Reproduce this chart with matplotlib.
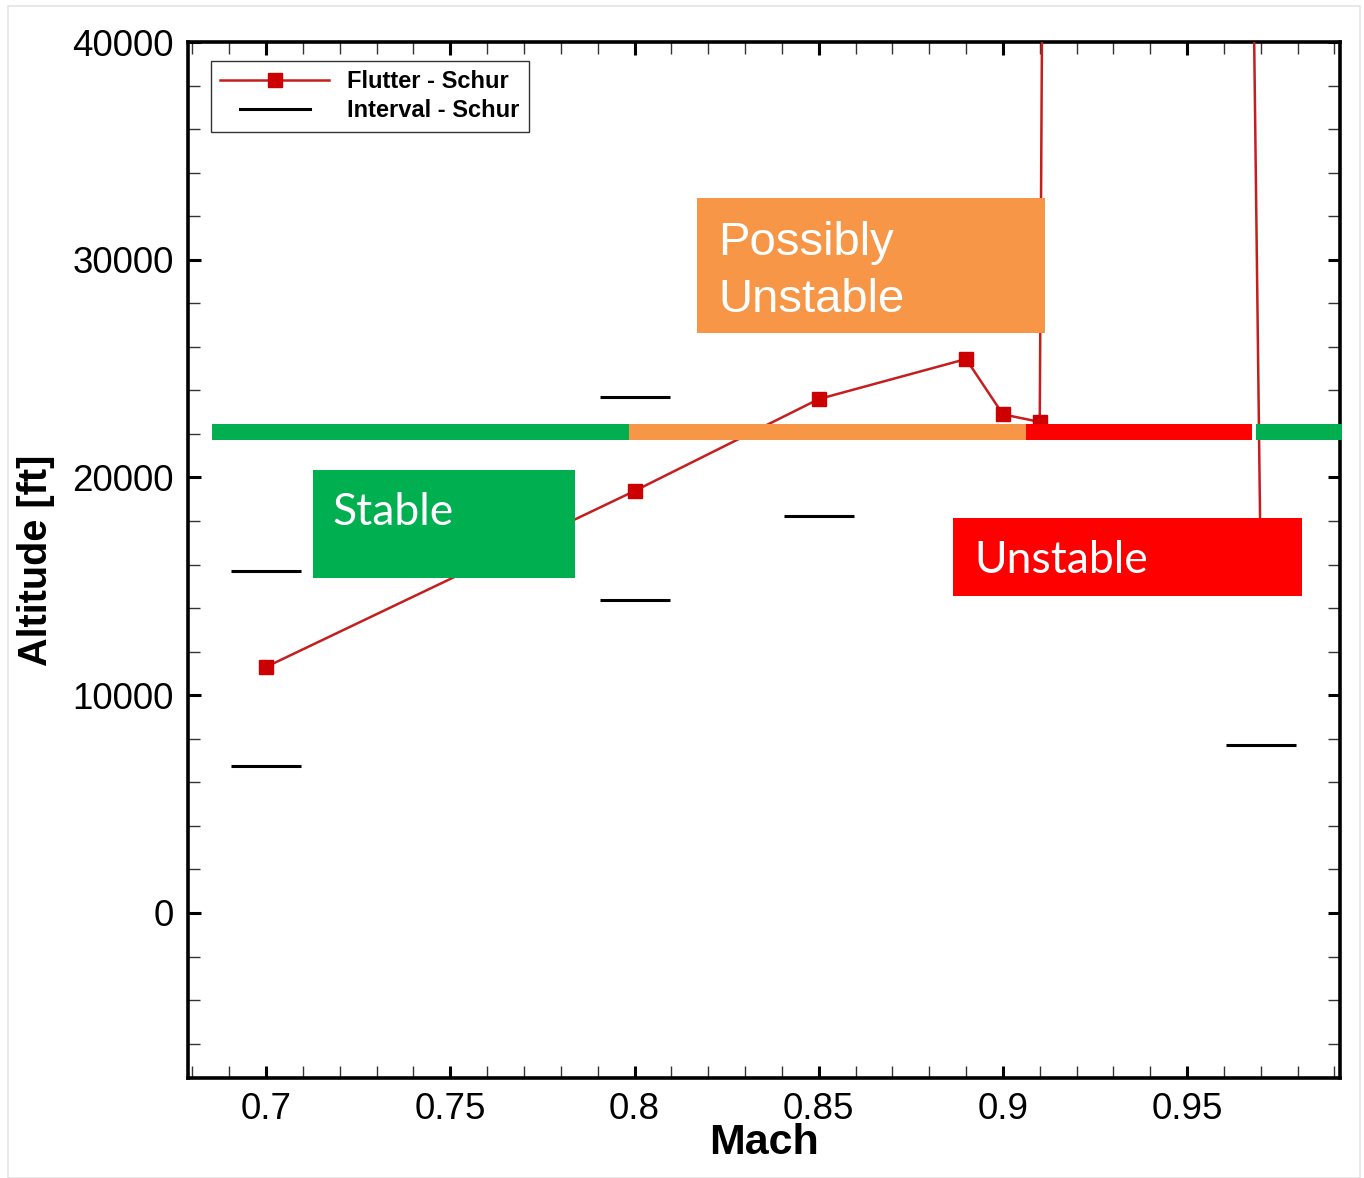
import matplotlib
matplotlib.use("Agg")
import matplotlib.pyplot as plt
from matplotlib.patches import Rectangle
from matplotlib.legend_handler import HandlerLine2D
from matplotlib.ticker import MultipleLocator

# Flutter boundary from the Schur analysis (the last three points leave the plot window)
flutter_mach = [0.70, 0.80, 0.85, 0.89, 0.90, 0.91, 0.911, 0.965, 0.97]
flutter_alt = [11300, 19380, 23600, 25440, 22900, 22550, 52000, 84000, 15400]
flutter_marked = 6  # number of computed points drawn with markers

# Interval bounds from the Schur analysis
interval_mach = [0.70, 0.70, 0.80, 0.80, 0.85, 0.97]
interval_alt = [15700, 6750, 23700, 14370, 18230, 7720]
interval_halfwidth = 0.0095

# Stability classification bands along the Mach axis
band_alt = 22090
band_edges = [(0.6853, 0.7985), (0.7985, 0.9063), (0.9063, 0.9677), (0.9687, 0.992)]
band_colors = ["#00B050", "#F79646", "#FF0000", "#00B050"]

x_ticks = [0.7, 0.75, 0.8, 0.85, 0.9, 0.95]
y_ticks = [0, 10000, 20000, 30000, 40000]

W, H = 1364, 1178
fig = plt.figure(figsize=(W / 100, H / 100), dpi=100, facecolor="white")
ax = fig.add_axes([188 / W, 1 - 1078 / H, (1340 - 188) / W, (1078 - 42) / H])

tick_font = "Liberation Sans"

# flutter curve
ax.plot(flutter_mach, flutter_alt, color="#C41E1E", lw=1.8, marker="s", ms=10,
        mfc="#CC0000", mec="#CC0000", markevery=list(range(flutter_marked)),
        label="Flutter - Schur", zorder=3)

# interval segments
ax.hlines(interval_alt, [m - interval_halfwidth for m in interval_mach],
          [m + interval_halfwidth for m in interval_mach], colors="black", lw=2.2,
          zorder=3)
ax.plot([], [], color="black", lw=2.2, label="Interval - Schur")

# classification bands
band_h = 735
for (x0, x1), c in zip(band_edges, band_colors):
    ax.add_patch(Rectangle((x0, band_alt - band_h / 2), x1 - x0, band_h, facecolor=c,
                           edgecolor="none", clip_on=False, zorder=5))

ax.set_xlim(0.6788, 0.9915)
ax.set_ylim(-7580, 40000)
ax.set_xticks(x_ticks)
ax.set_yticks(y_ticks)
ax.set_xticklabels([f"{t:g}" for t in x_ticks], fontfamily=tick_font, fontsize=26.5)
ax.set_yticklabels([str(t) for t in y_ticks], fontfamily=tick_font, fontsize=26.5)
ax.xaxis.set_minor_locator(MultipleLocator(0.01))
ax.yaxis.set_minor_locator(MultipleLocator(2000))
ax.tick_params(which="both", direction="in", top=True, right=True)
ax.tick_params(which="major", length=9, width=2.2, pad=10)
ax.tick_params(which="minor", length=8.5, width=1.0, color="#333333")
for s in ax.spines.values():
    s.set_linewidth(2.6)

ax.set_xlabel("Mach", fontfamily=tick_font, fontweight="bold", fontsize=31, labelpad=-3)
ax.set_ylabel("Altitude [ft]", fontfamily=tick_font, fontweight="bold", fontsize=28.5,
              labelpad=13)


class ShortLine(HandlerLine2D):
    def create_artists(self, legend, orig_handle, xdescent, ydescent, width, height,
                       fontsize, trans):
        return super().create_artists(legend, orig_handle, xdescent - width * 0.18,
                                      ydescent, width * 0.64, height, fontsize, trans)


handles, labels = ax.get_legend_handles_labels()
leg = ax.legend(handles, labels, loc="upper left", bbox_to_anchor=(0.02, 0.9817),
                borderaxespad=0, frameon=True, fancybox=False, edgecolor="black",
                handlelength=4.6, handletextpad=0.75, labelspacing=0.25,
                borderpad=0.4, prop={"family": tick_font, "weight": "bold", "size": 17},
                handler_map={handles[1]: ShortLine()})
leg.get_frame().set_linewidth(1.0)
leg.set_zorder(6)

# labelled regions
boxes = [
    ((0.4418, 0.7191), 0.7439 - 0.4418, 0.8494 - 0.7191, "#F79646"),
    ((0.1085, 0.4826), 0.3359 - 0.1085, 0.5869 - 0.4826, "#00B050"),
    ((0.6641, 0.4653), 0.9670 - 0.6641, 0.5405 - 0.4653, "#FF0000"),
]
for xy, w, h, c in boxes:
    ax.add_patch(Rectangle(xy, w, h, transform=ax.transAxes, facecolor=c,
                           edgecolor="none", zorder=7))

ax.text(0.4601, 0.7944, "Possibly", transform=ax.transAxes, color="white",
        fontfamily=tick_font, fontsize=34, va="baseline", ha="left", zorder=8)
ax.text(0.4601, 0.7394, "Unstable", transform=ax.transAxes, color="white",
        fontfamily=tick_font, fontsize=34, va="baseline", ha="left", zorder=8)
ax.text(0.125, 0.5338, "Stable", transform=ax.transAxes, color="white",
        fontfamily="Lato", fontsize=32, va="baseline", ha="left", zorder=8)
ax.text(0.6823, 0.4875, "Unstable", transform=ax.transAxes, color="white",
        fontfamily="Lato", fontsize=32, va="baseline", ha="left", zorder=8)

# thin outer frame
fig.add_artist(Rectangle((8 / W, 0.5 / H), (1360 - 8) / W, (1172 - 0.5) / H,
                         transform=fig.transFigure, facecolor="none",
                         edgecolor="#e4e4e4", lw=1.2))

fig.savefig("out.png", dpi=100, facecolor="white")
